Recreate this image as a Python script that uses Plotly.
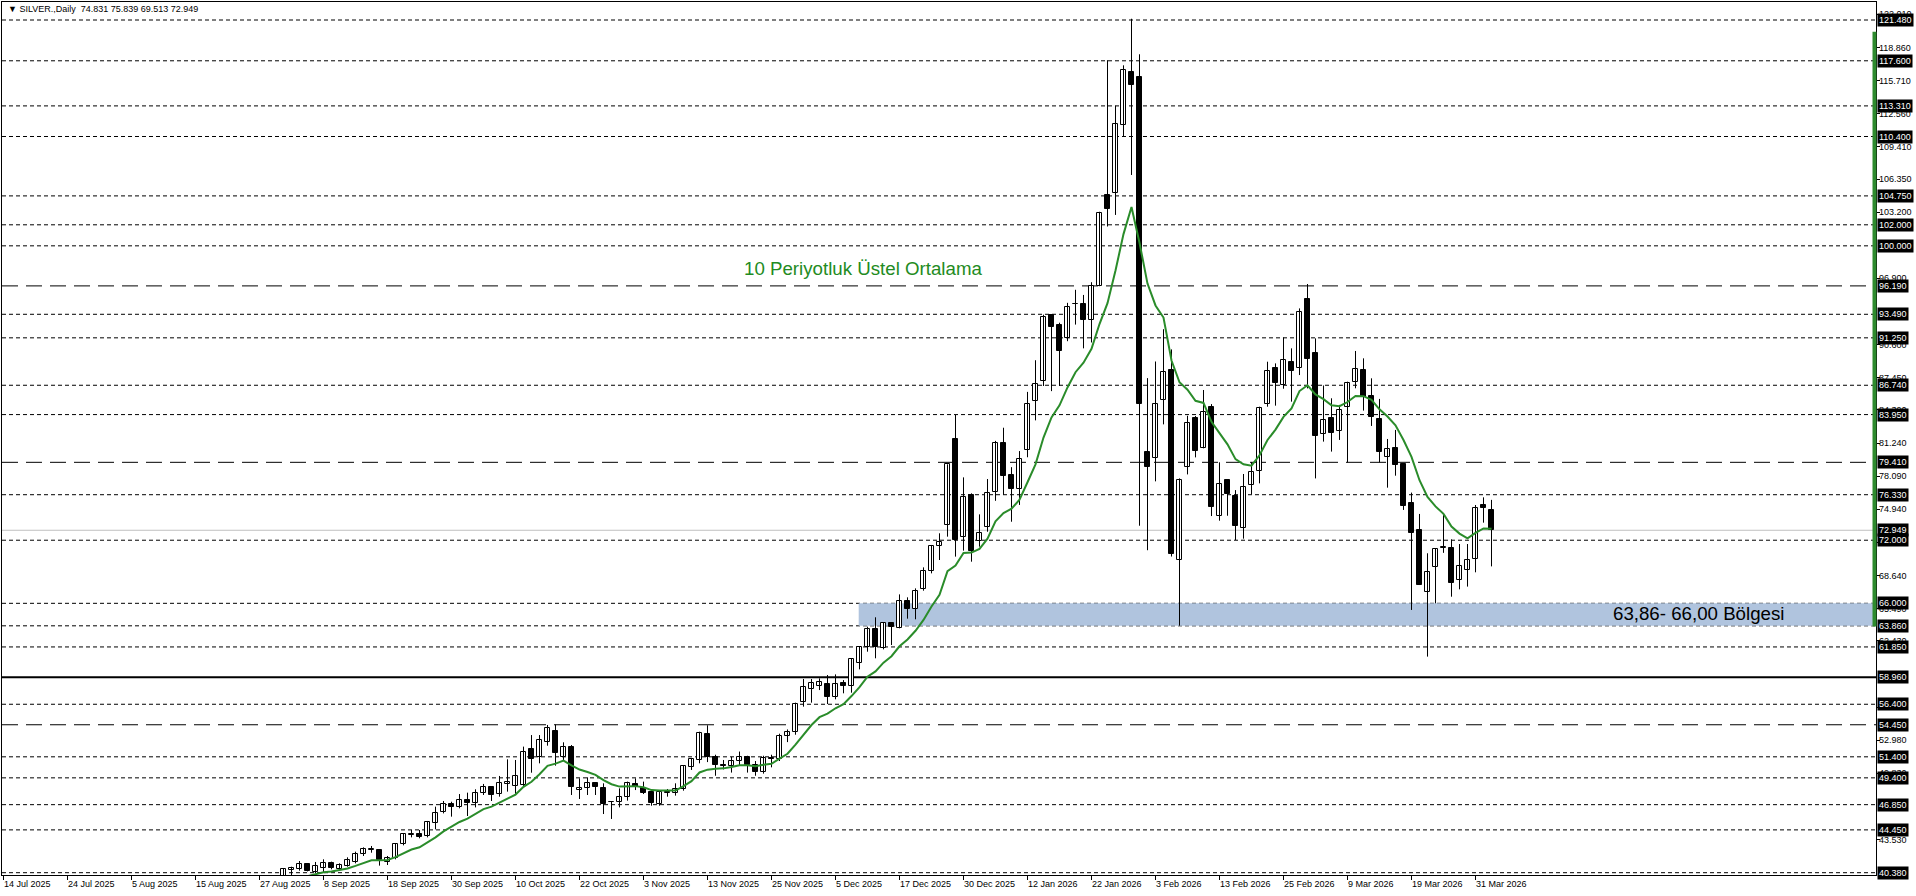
import pandas as pd
import plotly.graph_objects as go

# ---------------- data ----------------
holidays = ["2025-12-25", "2026-01-01"]
sessions = [d for d in pd.bdate_range("2025-07-14", "2026-04-02") if d.strftime("%Y-%m-%d") not in holidays]
first_visible = "2025-09-01"

opens = [39.95, 40.68, 40.76, 41.17, 40.48, 40.79, 41.27, 40.76, 41.05, 41.37,
         42.16, 42.58, 42.54, 41.43, 41.74, 43.08, 44.00, 44.03, 43.87, 45.14,
         46.12, 46.88, 46.59, 47.29, 46.97, 47.93, 48.50, 47.83, 48.82, 48.63,
         48.72, 52.11, 51.41, 52.84, 53.86, 51.35, 52.30, 48.24, 48.40, 48.88,
         48.40, 47.10, 47.07, 47.55, 48.78, 48.47, 48.02, 46.88, 48.00, 47.93,
         48.31, 50.46, 51.10,
         53.60, 51.40, 50.60, 50.50, 51.00, 51.40, 50.60, 50.00, 51.30, 51.20, 53.40,
         53.80, 56.64, 57.82, 58.13, 58.29, 57.06, 58.42, 58.13, 60.29, 61.81,
         63.52, 61.72, 64.09, 63.62, 66.19, 65.43, 67.33, 69.04, 71.45, 73.42,
         81.60, 72.34, 76.30, 71.96, 73.29, 76.62, 81.21, 78.20, 76.88, 80.57,
         85.28, 87.16, 93.45, 92.43, 91.19, 94.45, 94.50, 92.96, 96.16, 104.82,
         105.04, 111.45, 116.49, 116.04, 80.35, 79.78, 85.30, 88.19, 70.12, 78.93,
         83.59, 80.74, 84.64, 74.33, 77.72, 76.20, 73.13, 77.22, 78.55, 84.92,
         88.35, 86.73, 88.92, 88.35, 94.91, 89.77, 82.07, 83.60, 82.42, 84.71,
         87.02, 88.19, 85.72, 83.53, 79.95, 80.74, 79.25, 75.51, 72.98, 67.11,
         69.43, 71.25, 71.23, 68.22, 69.17, 70.19, 75.35, 74.831]
highs = [40.80, 40.95, 41.49, 41.20, 41.40, 41.65, 41.43, 41.27, 41.84, 42.38,
         42.79, 42.92, 42.60, 41.97, 43.17, 44.12, 44.44, 44.44, 45.30, 46.66,
         47.20, 47.13, 47.86, 47.99, 48.31, 48.82, 48.56, 49.58, 51.16, 51.10,
         52.37, 53.47, 53.47, 54.43, 54.47, 52.78, 52.52, 49.35, 49.45, 49.00,
         48.88, 47.13, 48.40, 49.04, 49.35, 49.04, 48.09, 48.09, 48.34, 48.88,
         50.62, 51.26, 53.79,
         54.40, 51.60, 51.10, 51.40, 51.90, 51.50, 51.00, 51.50, 51.60, 53.60, 54.00,
         56.55, 58.80, 58.80, 58.86, 59.18, 59.24, 58.70, 60.77, 61.94, 63.78,
         64.67, 64.16, 64.09, 66.85, 66.57, 67.42, 69.42, 71.55, 72.66, 79.22,
         83.91, 77.98, 76.46, 74.46, 77.82, 81.45, 82.70, 78.95, 80.48, 86.11,
         89.12, 93.45, 93.45, 92.69, 94.58, 95.82, 95.33, 96.54, 103.24, 117.66,
         113.33, 117.17, 121.60, 118.22, 87.42, 89.00, 92.07, 90.15, 77.88, 83.84,
         83.81, 86.29, 84.95, 79.41, 77.79, 76.77, 78.30, 79.41, 84.70, 88.98,
         88.82, 91.29, 90.25, 94.05, 96.37, 91.20, 86.72, 85.50, 84.87, 87.08,
         90.00, 89.30, 87.40, 85.44, 81.63, 82.49, 79.32, 76.53, 74.50, 70.76,
         71.23, 74.40, 72.08, 71.64, 71.64, 75.35, 76.08, 75.839]
lows = [39.70, 40.15, 40.57, 40.50, 40.32, 40.38, 40.70, 40.63, 40.95, 41.27,
        41.97, 42.28, 41.05, 41.11, 41.65, 42.98, 43.74, 43.65, 43.74, 44.50,
        46.02, 45.71, 46.50, 45.77, 46.59, 47.77, 47.20, 47.61, 48.09, 47.77,
        48.63, 49.89, 50.78, 52.46, 50.56, 51.10, 47.77, 47.39, 47.77, 47.77,
        45.96, 45.49, 46.59, 47.23, 48.24, 47.86, 46.75, 46.75, 47.61, 47.71,
        48.18, 50.15, 50.78,
        50.90, 49.60, 50.20, 49.90, 50.60, 49.90, 49.60, 49.80, 50.40, 51.00, 52.80,
        53.50, 56.17, 56.55, 57.75, 56.42, 56.87, 57.44, 57.50, 59.72, 61.40,
        60.77, 61.62, 62.03, 63.62, 64.54, 64.48, 67.20, 68.85, 70.12, 72.34,
        70.44, 71.01, 69.96, 71.39, 72.81, 75.75, 76.32, 73.76, 75.36, 79.89,
        83.40, 86.67, 86.18, 86.67, 90.93, 92.51, 90.25, 90.81, 96.16, 101.84,
        102.94, 110.39, 106.74, 73.38, 71.05, 77.60, 83.02, 70.45, 63.87, 78.26,
        79.88, 80.74, 74.30, 73.86, 74.33, 72.02, 72.15, 76.36, 77.41, 84.70,
        84.80, 86.41, 85.18, 87.71, 86.44, 77.88, 81.38, 80.43, 81.54, 79.41,
        86.45, 84.33, 82.87, 79.41, 77.00, 78.14, 74.88, 65.37, 67.74, 60.93,
        66.00, 70.80, 66.63, 67.33, 67.59, 68.95, 73.67, 69.513]
closes = [40.70, 40.85, 41.17, 40.57, 41.02, 41.27, 40.86, 41.11, 41.59, 42.12,
          42.60, 42.62, 41.59, 41.74, 43.08, 44.03, 44.05, 43.77, 45.17, 46.02,
          46.88, 46.66, 47.29, 46.97, 47.93, 48.50, 47.77, 48.88, 48.97, 49.58,
          51.89, 51.16, 52.99, 54.11, 51.73, 52.30, 48.56, 48.40, 48.88, 48.50,
          46.88, 47.07, 47.55, 48.88, 48.56, 47.99, 47.04, 48.02, 48.04, 48.31,
          50.56, 51.16, 53.63,
          51.40, 50.60, 50.50, 51.00, 51.40, 50.60, 50.00, 51.30, 51.20, 53.40, 53.80,
          56.42, 58.01, 58.39, 58.51, 57.06, 58.29, 58.13, 60.67, 61.81, 63.52,
          61.81, 64.09, 63.71, 66.19, 65.43, 67.14, 69.04, 71.45, 71.80, 79.22,
          72.02, 76.14, 71.01, 72.72, 76.52, 81.21, 78.10, 76.88, 79.72, 84.98,
          86.86, 93.26, 92.32, 89.98, 94.20, 94.50, 92.96, 96.16, 103.16, 103.50,
          111.63, 116.68, 115.29, 84.98, 78.95, 84.98, 87.98, 70.70, 77.72, 83.12,
          80.51, 84.16, 75.19, 77.31, 76.36, 73.38, 77.03, 78.45, 84.54, 88.09,
          86.98, 89.14, 88.12, 93.67, 89.20, 81.94, 83.42, 82.17, 84.39, 86.93,
          88.26, 85.66, 83.76, 80.43, 80.65, 79.16, 75.29, 72.66, 67.74, 69.01,
          71.13, 71.32, 67.90, 69.58, 70.12, 75.04, 75.04, 72.949]

ema_period = 10
ema_seed = 39.1  # EMA value on the bar before the first visible candle

x_tick_labels = ["14 Jul 2025", "24 Jul 2025", "5 Aug 2025", "15 Aug 2025", "27 Aug 2025",
                 "8 Sep 2025", "18 Sep 2025", "30 Sep 2025", "10 Oct 2025", "22 Oct 2025",
                 "3 Nov 2025", "13 Nov 2025", "25 Nov 2025", "5 Dec 2025", "17 Dec 2025",
                 "30 Dec 2025", "12 Jan 2026", "22 Jan 2026", "3 Feb 2026", "13 Feb 2026",
                 "25 Feb 2026", "9 Mar 2026", "19 Mar 2026", "31 Mar 2026"]

price_scale_labels = [122.010, 118.860, 115.710, 112.560, 109.410, 106.350, 103.200,
                      96.900, 90.600, 87.450, 84.390, 81.240, 78.090, 74.940, 71.790,
                      68.640, 65.490, 62.430, 56.130, 52.980, 49.830, 43.530]

dotted_levels = [121.48, 117.60, 113.31, 110.40, 104.75, 102.00, 100.00, 93.49, 91.25,
                 86.74, 83.95, 76.33, 72.00, 66.00, 63.86, 61.85, 56.40, 51.40, 49.40,
                 46.85, 44.45, 40.38]
dashed_levels = [96.19, 79.41, 54.45]
solid_levels = [58.96]
last_price = 72.949

zone_low, zone_high = 63.86, 66.00
zone_start = "2025-12-10"
zone_text = "63,86- 66,00 Bölgesi"
ema_text = "10 Periyotluk Üstel Ortalama"
header_text = "▼ SILVER.,Daily  74.831 75.839 69.513 72.949"

# ---------------- derived ----------------
dates = [d.strftime("%Y-%m-%d") for d in sessions]
idx = {d: i for i, d in enumerate(dates)}
start = idx[first_visible]
xs = list(range(start, start + len(closes)))

ema = []
prev = ema_seed
alpha = 2.0 / (ema_period + 1)
for c in closes:
    prev = prev + alpha * (c - prev)
    ema.append(prev)

# plot geometry (MT4 style: 8 px per bar)
W, H = 1916, 896
ml, mr, mt, mb = 2, 40, 2, 21
pw = W - ml - mr
ph = H - mt - mb
px_per_bar = 8.0
bar0_px = 3.5
x_lo = (ml - bar0_px) / px_per_bar
x_hi = x_lo + pw / px_per_bar
px_per_unit = 10.514
y_hi = 121.48 + (20 - mt) / px_per_unit
y_lo = y_hi - ph / px_per_unit

FONT = "Liberation Sans, Arial, sans-serif"

fig = go.Figure()

# wicks
wx, wy = [], []
for x, h, l in zip(xs, highs, lows):
    wx += [x, x, None]
    wy += [l, h, None]
fig.add_trace(go.Scatter(x=wx, y=wy, mode="lines", line=dict(color="black", width=1),
                         hoverinfo="skip", showlegend=False))

# bodies
for bull in (True, False):
    bx, bb, bh = [], [], []
    for x, o, c in zip(xs, opens, closes):
        if (c >= o) == bull:
            bx.append(x)
            bb.append(min(o, c))
            bh.append(max(abs(c - o), 0.06))
    fig.add_trace(go.Bar(x=bx, y=bh, base=bb, width=0.6,
                         marker=dict(color="white" if bull else "black",
                                     line=dict(color="black", width=1)),
                         showlegend=False, hoverinfo="skip"))

# EMA
fig.add_trace(go.Scatter(x=xs, y=ema, mode="lines", line=dict(color="#2a8c2a", width=2),
                         showlegend=False, hoverinfo="skip"))

shapes = []
shapes.append(dict(type="rect", xref="x", yref="y", x0=idx[zone_start] - 0.1, x1=x_hi,
                   y0=zone_low, y1=zone_high, fillcolor="#b0c4de", line=dict(width=0),
                   layer="below"))
for lv in dotted_levels:
    shapes.append(dict(type="line", xref="paper", yref="y", x0=0, x1=1, y0=lv, y1=lv,
                       line=dict(color="black", width=1, dash="4px,3px"), layer="below"))
for lv in dashed_levels:
    shapes.append(dict(type="line", xref="paper", yref="y", x0=0, x1=1, y0=lv, y1=lv,
                       line=dict(color="black", width=1, dash="16px,8px"), layer="below"))
for lv in solid_levels:
    shapes.append(dict(type="line", xref="paper", yref="y", x0=0, x1=1, y0=lv, y1=lv,
                       line=dict(color="black", width=2), layer="below"))
shapes.append(dict(type="line", xref="paper", yref="y", x0=0, x1=1, y0=last_price, y1=last_price,
                   line=dict(color="#c0c0c0", width=1), layer="below"))
shapes.append(dict(type="rect", xref="paper", yref="y", x0=1 - 3.5 / pw, x1=1 + 0.5 / pw,
                   y0=63.80, y1=120.37, fillcolor="#2e8b2e", line=dict(width=0)))

ann = []
lab_font = dict(family=FONT, size=9, color="black")
for v in price_scale_labels:
    ann.append(dict(x=1, xref="paper", y=v, yref="y", text=f"{v:.3f}", showarrow=False,
                    xanchor="left", yanchor="middle", xshift=2, borderpad=0, font=lab_font))
for v in sorted(dotted_levels + dashed_levels + solid_levels + [last_price]):
    ann.append(dict(x=1, xref="paper", y=v, yref="y", text=f"{v:.3f}", showarrow=False,
                    xanchor="left", yanchor="middle", xshift=1, bgcolor="black", borderpad=1,
                    font=dict(family=FONT, size=9, color="white")))
for k, t in enumerate(x_tick_labels):
    ann.append(dict(x=8 * k, xref="x", y=0, yref="paper", text=t, showarrow=False,
                    xanchor="left", yanchor="top", xshift=-2, yshift=-2, font=lab_font))
ann.append(dict(x=0, xref="paper", y=1, yref="paper", text=header_text, showarrow=False,
                xanchor="left", yanchor="top", xshift=4, yshift=0,
                font=dict(family=FONT, size=9, color="black")))
ann.append(dict(x=idx["2025-11-18"] + 1.3, xref="x", y=97.8, yref="y", text=ema_text,
                showarrow=False, xanchor="left", yanchor="middle",
                font=dict(family=FONT, size=18.7, color="#228b22")))
ann.append(dict(x=len(dates) - 1 + 14.9, xref="x", y=65.03, yref="y", text=zone_text,
                showarrow=False, xanchor="left", yanchor="middle",
                font=dict(family=FONT, size=18.7, color="black")))

fig.update_layout(
    width=W, height=H, margin=dict(l=ml, r=mr, t=mt, b=mb),
    paper_bgcolor="white", plot_bgcolor="white", barmode="overlay", bargap=0,
    shapes=shapes, annotations=ann, showlegend=False,
    xaxis=dict(range=[x_lo, x_hi], showgrid=False, zeroline=False, showline=True, mirror=True,
               linecolor="black", linewidth=1, ticks="outside", ticklen=4, tickcolor="black",
               tickvals=[8 * k for k in range(len(x_tick_labels))], showticklabels=False,
               fixedrange=True),
    yaxis=dict(range=[y_lo, y_hi], side="right", showgrid=False, zeroline=False, showline=True,
               mirror=True, linecolor="black", linewidth=1, ticks="outside", ticklen=3,
               tickcolor="black", tickvals=price_scale_labels, showticklabels=False,
               fixedrange=True),
)
fig.write_html("out.html", config={"displayModeBar": False},
               post_script="document.body.style.margin='0';document.body.style.padding='0';"
                           "document.documentElement.style.overflow='hidden';")
